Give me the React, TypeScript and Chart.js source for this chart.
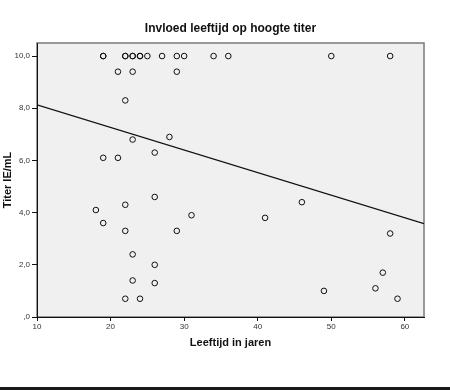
import React, { useEffect, useRef } from "react";
import { Chart, registerables } from "chart.js";

Chart.register(...registerables);

const chartTitle = "Invloed leeftijd op hoogte titer";
const xAxisTitle = "Leeftijd in jaren";
const yAxisTitle = "Titer IE/mL";

// Age (years) of each observation
const ageYears = [
  19, 19, 22, 22, 23, 23, 24, 24, 25, 27, 29, 30, 34, 36, 50, 58,
  21, 23, 29, 22, 23, 28, 26, 19, 21,
  26, 22, 18, 31, 19, 22, 29, 23, 26, 23, 26, 22, 24,
  46, 41, 58, 57, 56, 49, 59,
];
// Titer (IE/mL) of each observation
const titerValues = [
  10, 10, 10, 10, 10, 10, 10, 10, 10, 10, 10, 10, 10, 10, 10, 10,
  9.4, 9.4, 9.4, 8.3, 6.8, 6.9, 6.3, 6.1, 6.1,
  4.6, 4.3, 4.1, 3.9, 3.6, 3.3, 3.3, 2.4, 2.0, 1.4, 1.3, 0.7, 0.7,
  4.4, 3.8, 3.2, 1.7, 1.1, 1.0, 0.7,
];
// Fit line end points
const fitAge = [10, 62.6];
const fitTiter = [8.13, 3.58];

const xTicks = [10, 20, 30, 40, 50, 60];
const yTicks = [0, 2, 4, 6, 8, 10];

const FONT = "'Liberation Sans', Arial, sans-serif";

const framePlugin = {
  id: "frame",
  beforeDraw(chart: any) {
    const { ctx, chartArea: a } = chart;
    ctx.save();
    ctx.fillStyle = "#f0f0f0";
    ctx.fillRect(a.left, a.top, a.right - a.left, a.bottom - a.top);
    ctx.strokeStyle = "#7a7a7a";
    ctx.lineWidth = 1.5;
    ctx.strokeRect(a.left, a.top, a.right - a.left, a.bottom - a.top);
    ctx.restore();
  },
  afterDraw(chart: any) {
    const { ctx } = chart;
    ctx.save();
    ctx.fillStyle = "#1a1a1a";
    ctx.fillRect(0, 387, chart.width, 3);
    ctx.restore();
  },
};

export default function App() {
  const ref = useRef<HTMLCanvasElement | null>(null);

  useEffect(() => {
    if (!ref.current) return;
    const points = ageYears.map((x, i) => ({ x, y: titerValues[i] }));
    const fit = fitAge.map((x, i) => ({ x, y: fitTiter[i] }));
    const chart = new Chart(ref.current, {
      type: "scatter",
      data: {
        datasets: [
          {
            data: points,
            pointRadius: 2.8,
            pointBorderWidth: 1,
            borderColor: "#111",
            backgroundColor: "rgba(0,0,0,0)",
            pointHoverRadius: 2.8,
          },
          {
            type: "line",
            data: fit,
            borderColor: "#111",
            borderWidth: 1.3,
            pointRadius: 0,
            showLine: true,
            fill: false,
          },
        ],
      },
      options: {
        responsive: false,
        animation: false,
        events: [],
        layout: { padding: { left: 0, top: 0, right: 26, bottom: 40 } },
        plugins: {
          legend: { display: false },
          tooltip: { enabled: false },
          title: {
            display: true,
            text: chartTitle,
            fullSize: false,
            color: "#111",
            font: { family: FONT, size: 12, weight: "bold" },
            padding: { top: 21, bottom: 7.6 },
          },
        },
        scales: {
          x: {
            type: "linear",
            min: 10,
            max: 62.6,
            afterFit(scale: any) {
              scale.height = 33;
            },
            afterBuildTicks(scale: any) {
              scale.ticks = xTicks.map((v) => ({ value: v }));
            },
            ticks: {
              includeBounds: false,
              autoSkip: false,
              maxRotation: 0,
              padding: 1,
              color: "#333",
              font: { family: FONT, size: 8 },
              callback: (v: any) => String(v),
            },
            grid: {
              drawOnChartArea: false,
              drawTicks: true,
              tickLength: 4,
              color: "#111",
            },
            border: { display: true, color: "#111", width: 1 },
            title: {
              display: true,
              text: xAxisTitle,
              color: "#111",
              font: { family: FONT, size: 11, weight: "bold" },
              padding: { top: 0, bottom: 0 },
            },
          },
          y: {
            type: "linear",
            min: 0,
            max: 10.5,
            afterFit(scale: any) {
              scale.width = 37;
            },
            afterBuildTicks(scale: any) {
              scale.ticks = yTicks.map((v) => ({ value: v }));
            },
            ticks: {
              includeBounds: false,
              autoSkip: false,
              padding: 2,
              color: "#333",
              font: { family: FONT, size: 8 },
              callback: (v: any) =>
                v === 0 ? ",0" : Number(v).toFixed(1).replace(".", ","),
            },
            grid: {
              drawOnChartArea: false,
              drawTicks: true,
              tickLength: 5,
              color: "#111",
            },
            border: { display: true, color: "#111", width: 1 },
            title: {
              display: true,
              text: yAxisTitle,
              color: "#111",
              font: { family: FONT, size: 11, weight: "bold" },
              padding: { top: 1.4, bottom: 0 },
            },
          },
        },
      },
      plugins: [framePlugin],
    } as any);
    return () => chart.destroy();
  }, []);

  return (
    <div style={{ position: "fixed", left: 0, top: 0, width: 450, height: 390, background: "#fff" }}>
      <canvas ref={ref} width={450} height={390} style={{ display: "block" }} />
    </div>
  );
}
